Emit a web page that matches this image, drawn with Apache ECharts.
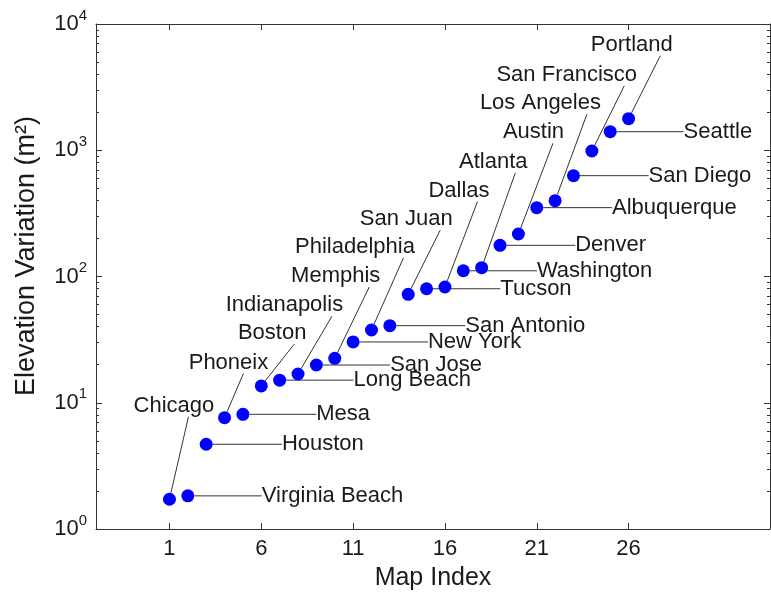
<!DOCTYPE html>
<html><head><meta charset="utf-8">
<script src="https://cdn.jsdelivr.net/npm/echarts@6/dist/echarts.min.js"></script>
<style>html,body{margin:0;padding:0;background:#fff}#c{width:771px;height:599px}</style>
</head><body><div id="c"></div>
<script>
// ---- data ----
const cities = ['Chicago','Virginia Beach','Houston','Phoneix','Mesa','Boston','Long Beach','Indianapolis','San Jose','Memphis','New York','Philadelphia','San Antonio','San Juan','Tucson','Dallas','Washington','Atlanta','Denver','Austin','Albuquerque','Los Angeles','San Diego','San Francisco','Seattle','Portland'];
const mapIndex = [1,2,3,4,5,6,7,8,9,10,11,12,13,14,15,16,17,18,19,20,21,22,23,24,25,26];
const elevation = [1.72,1.83,4.69,7.62,8.1,13.6,15.1,16.9,19.9,22.5,30.3,37.7,40.8,72.3,80,82.6,111,117.5,176.6,217,351,399,629,986,1403,1778];
const xTickValues = [1,6,11,16,21,26];
const yTickValues = [1,10,100,1000,10000];
const yMinorTickValues = [2,3,4,5,6,7,8,9,20,30,40,50,60,70,80,90,200,300,400,500,600,700,800,900,2000,3000,4000,5000,6000,7000,8000,9000];

// ---- label placement (pixel offsets from each dot): kind, dx, dy, right padding ----
const labelPlacement = [
  ['s',19,-93.5,29],['h',74,0,0],['h',75.7,0,0],['s',18.9,-55.2,30],['h',73.3,0,0],
  ['s',32.9,-52.7,44],['h',73.8,0,0],['s',33.9,-68.7,95],['h',73.8,0,0],['s',34.5,-82.3,67],
  ['h',74.8,0,0],['s',32,-83.2,97],['h',75.4,0,0],['s',32,-75.1,68],['h',73.7,0,0],
  ['s',32.6,-96.5,37],['h',73.6,0,0],['s',33.6,-105.7,44],['h',75.2,0,0],['s',34.6,-101.8,39],
  ['h',75.2,0,0],['s',31.8,-97.4,93],['h',75.1,0,0],['s',32.4,-76.2,115],['h',73.4,0,0],['s',31.7,-73.9,57]
];

const FONT = "'Liberation Sans', Arial, Helvetica, sans-serif";
const TXT = '#1a1a1a';
const AX = '#333';

const seriesData = mapIndex.map((x, i) => ({
  value: [x, elevation[i]],
  name: cities[i],
  label: { padding: [0, labelPlacement[i][3], 0, 0] }
}));

const chart = echarts.init(document.getElementById('c'), null, {renderer: 'canvas'});

const baseX = {
  type: 'value', min: -3, max: 33.7,
  axisLine: { show: true, onZero: false, lineStyle: { color: AX, width: 1 } },
  axisTick: { show: true, inside: true, length: 6, customValues: xTickValues, lineStyle: { color: AX } },
  splitLine: { show: false }
};
const baseY = {
  type: 'log', logBase: 10, min: 1, max: 10000,
  axisLine: { show: true, onZero: false, lineStyle: { color: AX, width: 1 } },
  splitLine: { show: false },
  minorTick: { show: false }
};

chart.setOption({
  animation: false,
  backgroundColor: '#fff',
  grid: { left: 96, right: 1, top: 24, bottom: 70, containLabel: false },
  xAxis: [
    Object.assign({}, baseX, {
      position: 'bottom',
      axisLabel: { customValues: xTickValues, fontSize: 22, color: TXT, fontFamily: FONT, margin: 9 },
      name: 'Map Index', nameLocation: 'middle', nameGap: 37,
      nameTextStyle: { fontSize: 25, color: TXT, fontFamily: FONT }
    }),
    Object.assign({}, baseX, { position: 'top', axisLabel: { show: false } })
  ],
  yAxis: [
    Object.assign({}, baseY, {
      position: 'left',
      axisTick: { show: true, inside: true, length: 6, customValues: yTickValues, lineStyle: { color: AX } },
      axisLabel: {
        customValues: yTickValues, margin: 9,
        formatter: v => '{b|10}{e|' + Math.round(Math.log10(v)) + '}',
        rich: {
          b: { fontSize: 22, lineHeight: 32, color: TXT, fontFamily: FONT },
          e: { fontSize: 15, lineHeight: 14, verticalAlign: 'top', color: TXT, fontFamily: FONT }
        }
      },
      name: 'Elevation Variation (m²)', nameLocation: 'middle', nameGap: 56,
      nameTextStyle: { fontSize: 27, color: TXT, fontFamily: FONT, padding: [0, 0, 0, 41] }
    }),
    Object.assign({}, baseY, {
      position: 'left',
      axisLine: { show: false, onZero: false },
      axisTick: { show: true, inside: true, length: 3, customValues: yMinorTickValues, lineStyle: { color: AX } },
      axisLabel: { show: false }
    }),
    Object.assign({}, baseY, {
      position: 'right',
      axisTick: { show: true, inside: true, length: 6, customValues: yTickValues, lineStyle: { color: AX } },
      axisLabel: { show: false }
    }),
    Object.assign({}, baseY, {
      position: 'right',
      axisLine: { show: false, onZero: false },
      axisTick: { show: true, inside: true, length: 3, customValues: yMinorTickValues, lineStyle: { color: AX } },
      axisLabel: { show: false }
    })
  ],
  series: [{
    type: 'scatter',
    xAxisIndex: 0, yAxisIndex: 0,
    symbol: 'circle', symbolSize: 13,
    itemStyle: { color: '#0000ff', opacity: 1 },
    data: seriesData,
    label: {
      show: true, position: ['50%', '50%'], formatter: '{b}',
      align: 'center', verticalAlign: 'middle',
      fontSize: 22, lineHeight: 17, color: TXT, fontFamily: FONT,
      backgroundColor: 'rgba(255,255,255,0)', textBorderWidth: 0
    },
    labelLine: { show: true, length2: 0, smooth: false, lineStyle: { color: '#333', width: 1 } },
    labelLayout: function (p) {
      const pl = labelPlacement[p.dataIndex];
      return { dx: pl[1], dy: pl[2], align: pl[0] === 'h' ? 'left' : 'center', verticalAlign: 'middle' };
    },
    emphasis: { disabled: true },
    z: 3
  }]
});
</script>
</body></html>
